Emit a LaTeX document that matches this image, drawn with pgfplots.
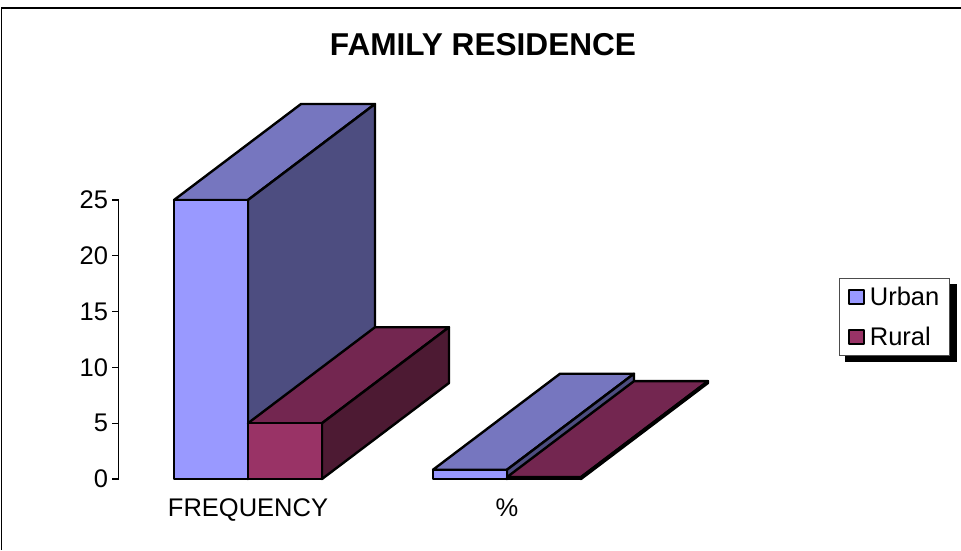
\documentclass[border=0pt]{standalone}
\usepackage{fontspec}
\setmainfont{Liberation Sans}
\usepackage{pgfplots}
\pgfplotsset{compat=1.18}
\definecolor{urbanfront}{HTML}{9999FF}
\definecolor{urbantop}{HTML}{7676BF}
\definecolor{urbanside}{HTML}{4D4D80}
\definecolor{ruralfront}{HTML}{993366}
\definecolor{ruraltop}{HTML}{732650}
\definecolor{ruralside}{HTML}{4D1A33}
\begin{document}
\begin{tikzpicture}[x=1pt,y=1pt]
  \path[use as bounding box] (0,0) rectangle (961,550);
  % outer chart frame, only top and left show
  \draw[line width=1.7pt] (1.5,0) -- (1.5,542) -- (961,542);
  % legend shadow
  \fill[black] (845,188.5) rectangle (957,266);
  \begin{axis}[
    at={(118.5pt,71pt)},anchor=south west,
    scale only axis,width=518pt,height=279pt,
    xmin=-0.5,xmax=1.5,ymin=0,ymax=25,
    clip=false,
    axis y line=left,axis x line=bottom,
    y axis line style={-,line width=1.3pt},
    x axis line style={draw=none},
    xtick={0,1},xticklabels={FREQUENCY,\%},
    ytick={0,5,10,15,20,25},
    xtick style={draw=none},
    ytick style={line width=1.2pt,black},
    tick align=outside,major tick length=6pt,
    ticklabel style={font=\fontsize{25.5}{30}\selectfont},
    /pgf/number format/assume math mode=true,
    xticklabel style={yshift=-10pt},
    yticklabel style={xshift=-1pt},
    title={\fontsize{31.6}{37}\selectfont\bfseries FAMILY RESIDENCE},
    title style={at={(0.7037,1.534)},anchor=center},
    legend style={at={(1.391,0.72)},anchor=north west,
      draw=black!70,line width=0.8pt,fill=white,
      font=\fontsize{25.5}{30}\selectfont,
      inner xsep=8.5pt,inner ysep=6.5pt,row sep=16pt,
      /tikz/column 1/.style={column sep=2.5pt},
      legend cell align=left},
    legend image code/.code={\draw[#1,line width=2.4pt] (0pt,-7pt) rectangle (15pt,7pt);},
    every axis plot/.append style={draw=black,line width=2.4pt,line join=round,mark=none},
  ]
    % urban, frequency
    \addplot[fill=urbantop,forget plot] coordinates {(-0.2857,25) (0,25) (0.4903,33.6) (0.2046,33.6)} --cycle;
    \addplot[fill=urbanside,forget plot] coordinates {(0,0) (0,25) (0.4903,33.6) (0.4903,8.6)} --cycle;
    \addplot[fill=urbanfront] coordinates {(-0.2857,0) (-0.2857,25) (0,25) (0,0)} --cycle;
    % urban, %
    \addplot[fill=urbantop,forget plot] coordinates {(0.7143,0.83) (1,0.83) (1.4903,9.43) (1.2046,9.43)} --cycle;
    \addplot[fill=urbanside,forget plot] coordinates {(1,0) (1,0.83) (1.4903,9.43) (1.4903,8.6)} --cycle;
    \addplot[fill=urbanfront,forget plot] coordinates {(0.7143,0) (0.7143,0.83) (1,0.83) (1,0)} --cycle;
    % rural, frequency
    \addplot[fill=ruraltop,forget plot] coordinates {(0,5) (0.2857,5) (0.776,13.6) (0.4903,13.6)} --cycle;
    \addplot[fill=ruralside,forget plot] coordinates {(0.2857,0) (0.2857,5) (0.776,13.6) (0.776,8.6)} --cycle;
    \addplot[fill=ruralfront] coordinates {(0,0) (0,5) (0.2857,5) (0.2857,0)} --cycle;
    % rural, %
    \addplot[fill=ruraltop,forget plot] coordinates {(1,0.17) (1.2857,0.17) (1.776,8.77) (1.4903,8.77)} --cycle;
    \addplot[fill=ruralside,forget plot] coordinates {(1.2857,0) (1.2857,0.17) (1.776,8.77) (1.776,8.6)} --cycle;
    \addplot[fill=ruralfront,forget plot] coordinates {(1,0) (1,0.17) (1.2857,0.17) (1.2857,0)} --cycle;
    \legend{Urban,Rural}
  \end{axis}
\end{tikzpicture}
\end{document}
